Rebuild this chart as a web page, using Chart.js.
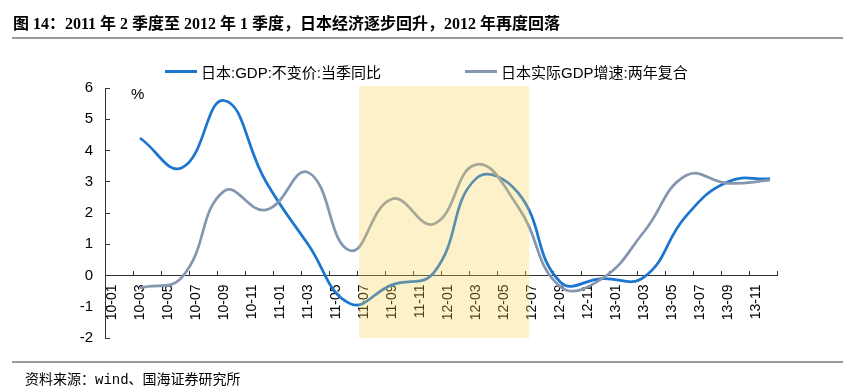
<!DOCTYPE html>
<html>
<head>
<meta charset="utf-8">
<script src="https://cdn.jsdelivr.net/npm/chart.js@4.4.1/dist/chart.umd.min.js"></script>
<style>
    body { margin: 0; background: #fff; }
    #wrap { position: relative; width: 843px; height: 387px; font-family: "Liberation Sans", "Noto Sans CJK SC", sans-serif; color: #000; }
    #title { position: absolute; left: 13px; top: 10px; font: bold 16px "Liberation Serif", "Noto Sans CJK SC", serif; white-space: nowrap; }
    .rule { position: absolute; left: 12px; right: 0; height: 2px; background: #9a9a9a; }
    #source { position: absolute; left: 25px; top: 368px; font: 14px "Liberation Mono", "Noto Sans CJK SC", monospace; white-space: nowrap; }
    .item { position: absolute; top: 61px; display: flex; align-items: center; font-size: 15px; white-space: nowrap; }
    .item i { display: inline-block; width: 32px; height: 3px; margin-right: 4px; }
    canvas { position: absolute; left: 0; top: 0; }
</style>
</head>
<body>
<div id="wrap">
    <canvas id="gdpChart" width="843" height="387"></canvas>
    <div id="title">图 14：2011 年 2 季度至 2012 年 1 季度，日本经济逐步回升，2012 年再度回落</div>
    <div class="rule" style="top:37px"></div>
    <div id="legend"></div>
    <div class="rule" style="top:361px"></div>
    <div id="source">资料来源：wind、国海证券研究所</div>
</div>
<script>
const xLabels = ["10-01", "10-03", "10-05", "10-07", "10-09", "10-11",
    "11-01", "11-03", "11-05", "11-07", "11-09", "11-11",
    "12-01", "12-03", "12-05", "12-07", "12-09", "12-11",
    "13-01", "13-03", "13-05", "13-07", "13-09", "13-11"];

const quarters = ["2010-03", "2010-06", "2010-09", "2010-12",
    "2011-03", "2011-06", "2011-09", "2011-12",
    "2012-03", "2012-06", "2012-09", "2012-12",
    "2013-03", "2013-06", "2013-09", "2013-12"];

const gdpYoY = [4.4, 3.45, 5.6, 3.0, 1.0, -0.9, -0.3, 0.1,
    3.1, 2.65, -0.2, -0.1, -0.05, 1.9, 3.0, 3.1];

const gdpTwoYear = [-0.4, -0.05, 2.7, 2.1, 3.3, 0.8, 2.45, 1.65,
    3.55, 2.2, -0.35, -0.1, 1.4, 3.2, 2.95, 3.05];

const seriesNames = ["日本:GDP:不变价:当季同比", "日本实际GDP增速:两年复合"];
const seriesColors = ["#1c76d0", "#8597b0"];

// highlighted period, in months from 2010-01
const shadeRange = [18.15, 30.3];

function monthPos(q) {
    const [y, m] = q.split("-").map(Number);
    return (y - 2010) * 12 + (m - 1) + 0.5;
}

const overlay = {
    id: "overlay",
    afterDatasetsDraw(chart) {
        const { ctx, chartArea, scales } = chart;
        const x0 = scales.x.getPixelForValue(shadeRange[0]);
        const x1 = scales.x.getPixelForValue(shadeRange[1]);
        ctx.save();
        ctx.fillStyle = "rgba(250,210,80,0.3)";
        ctx.fillRect(x0, chartArea.top - 2, x1 - x0, chartArea.bottom - chartArea.top + 2);
        ctx.restore();
    },
    afterDraw(chart) {
        const { ctx, chartArea } = chart;
        ctx.save();
        ctx.font = "15px 'Liberation Sans'";
        ctx.fillStyle = "#000";
        ctx.textBaseline = "middle";
        ctx.fillText("%", chartArea.left + 26, chartArea.top + 7);
        ctx.restore();
    }
};

new Chart(document.getElementById("gdpChart"), {
    type: "line",
    data: {
        datasets: [
            {
                label: seriesNames[0],
                data: quarters.map((q, i) => ({ x: monthPos(q), y: gdpYoY[i] })),
                borderColor: seriesColors[0],
                borderWidth: 2.75,
                tension: 0.45,
                pointRadius: 0,
                order: 1
            },
            {
                label: seriesNames[1],
                data: quarters.map((q, i) => ({ x: monthPos(q), y: gdpTwoYear[i] })),
                borderColor: seriesColors[1],
                borderWidth: 2.75,
                tension: 0.45,
                pointRadius: 0,
                order: 0
            }
        ]
    },
    options: {
        responsive: false,
        animation: false,
        layout: { padding: { top: 88, right: 66, bottom: 49, left: 0 } },
        plugins: { legend: { display: false }, tooltip: { enabled: false } },
        scales: {
            x: {
                type: "linear",
                min: 0,
                max: 48,
                position: { y: 0 },
                afterBuildTicks: s => {
                    s.ticks = xLabels.map((_, i) => ({ value: i * 2 })).concat([{ value: 48 }]);
                },
                afterFit: s => { s.height = 0; },
                border: { color: "#333", width: 1 },
                grid: { drawOnChartArea: false, tickLength: -5, color: "#333" },
                ticks: {
                    autoSkip: false,
                    minRotation: 90,
                    maxRotation: 90,
                    labelOffset: 7,
                    padding: 14,
                    color: "#000",
                    font: { family: "Liberation Sans", size: 14 },
                    callback: v => xLabels[v / 2] ?? ""
                }
            },
            y: {
                min: -2,
                max: 6,
                afterFit: s => { s.width = 105; },
                border: { color: "#333", width: 1 },
                grid: { drawOnChartArea: false, tickLength: -5, color: "#333" },
                ticks: {
                    stepSize: 1,
                    padding: 17,
                    color: "#000",
                    font: { family: "Liberation Sans", size: 15 }
                }
            }
        }
    },
    plugins: [overlay]
});

const legendLeft = [165, 465];
document.getElementById("legend").innerHTML = seriesNames.map((n, i) =>
    `<div class="item" style="left:${legendLeft[i]}px"><i style="background:${seriesColors[i]}"></i>${n}</div>`
).join("");
</script>
</body>
</html>
